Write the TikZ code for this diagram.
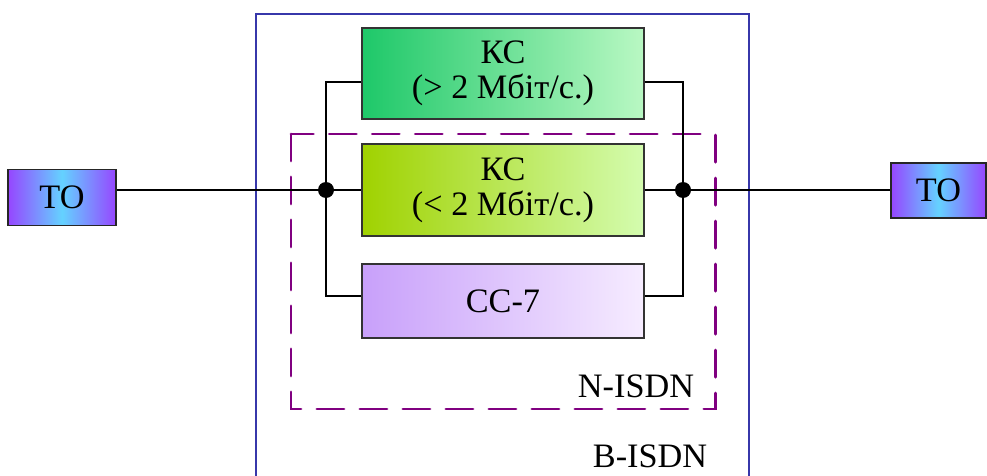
\documentclass[tikz,border=0pt]{standalone}
\usepackage{fontspec}
\setmainfont{Liberation Serif}
\usetikzlibrary{positioning,calc}
\definecolor{ksgreen}{RGB}{30,200,105}
\definecolor{kslight}{RGB}{185,248,195}
\definecolor{ksolive}{RGB}{160,210,0}
\definecolor{ksoliveL}{RGB}{212,252,175}
\definecolor{sslilac}{RGB}{200,160,250}
\definecolor{sslight}{RGB}{246,236,255}
\definecolor{topurple}{RGB}{150,70,255}
\definecolor{tocyan}{RGB}{100,210,255}
\definecolor{bframe}{RGB}{55,55,170}
\definecolor{nframe}{RGB}{128,0,128}

\begin{document}
\begin{tikzpicture}[x=0.02cm, y=-0.02cm,
  chan/.style={rectangle, draw=black!80, line width=0.8pt, left color=#1, right color=#1L,
    minimum width=5.64cm, minimum height=1.82cm, align=center, inner sep=0pt,
    font=\fontsize{19.5}{20}\selectfont},
  term/.style={rectangle, draw=black!85, line width=0.8pt, left color=topurple, right color=topurple,
    middle color=tocyan, minimum height=1.12cm, inner sep=0pt, font=\fontsize{19.5}{20}\selectfont},
  wire/.style={draw=black, line width=0.9pt},
  dot/.style={circle, fill=black, minimum size=0.32cm, inner sep=0pt},
  tag/.style={font=\fontsize{19.5}{20}\selectfont}
]
  \useasboundingbox (0,0) rectangle (987,476);
  \colorlet{ksgreenL}{kslight}
  \colorlet{ksoliveL}{ksoliveL}
  \colorlet{sslilacL}{sslight}
  % B-ISDN frame
  \draw[bframe, line width=0.6pt] (256,476) |- (749,14) -- (749,476);
  \node[tag] (bisdn) at (650,456.5) {B-ISDN};
  % N-ISDN frame
  \draw[nframe, line width=1.7pt, line cap=round, dash pattern=on 0.54cm off 0.32cm]
    (291,134) rectangle (715,409);
  \node[tag] (nisdn) at (636,386) {N-ISDN};
  % Channels
  \node[chan=ksgreen] (ksH) at (503,73.5) {КС\\(> 2 Мбіт/с.)};
  \node[chan=ksolive, minimum height=1.84cm] (ksL) at (503,190) {КС\\(< 2 Мбіт/с.)};
  \node[chan=sslilac, minimum height=1.48cm] (cc7) at (503,301) {СС-7};
  % Terminals
  \node[term, minimum width=2.16cm] (toL) at (62,197.5) {ТО};
  \node[term, minimum width=1.9cm, minimum height=1.1cm] (toR) at (938.5,190.5) {ТО};
  % Junctions
  \node[dot] (jL) at (326,190) {};
  \node[dot] (jR) at (683,190) {};
  % Wires
  \draw[wire] (toL.east |- jL) -- (jL) -- (ksL.west);
  \draw[wire] ([yshift=-0.17cm]ksH.west) -| (jL) |- ([yshift=0.1cm]cc7.west);
  \draw[wire] (ksL.east) -- (jR) -- (toR.west |- jR);
  \draw[wire] ([yshift=-0.17cm]ksH.east) -| (jR) |- ([yshift=0.1cm]cc7.east);
\end{tikzpicture}
\end{document}
